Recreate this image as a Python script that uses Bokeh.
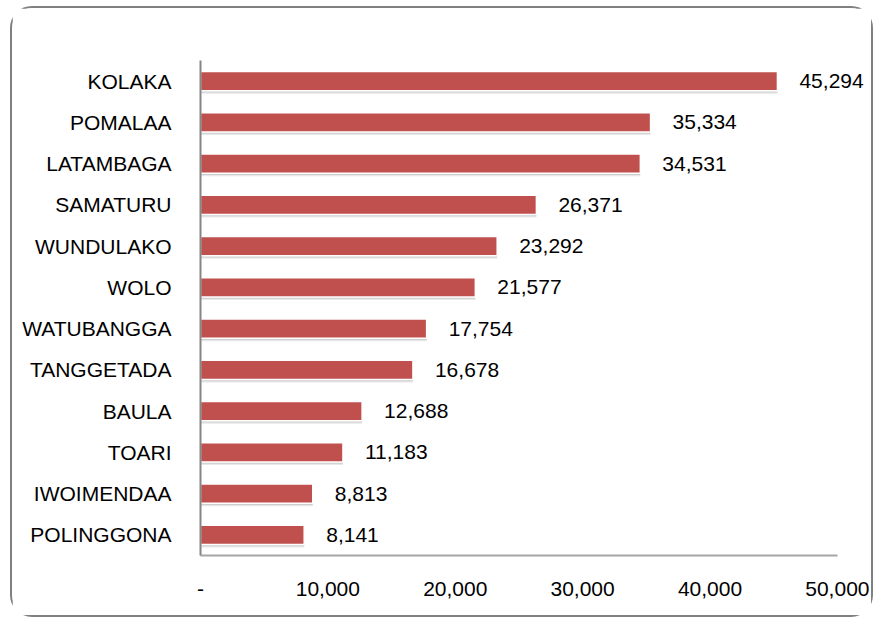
from bokeh.plotting import figure
from bokeh.models import ColumnDataSource, FactorRange, Range1d, FixedTicker
from bokeh.transform import dodge
from bokeh.core.properties import value
from bokeh.embed import file_html
from bokeh.resources import INLINE

categories = ["KOLAKA", "POMALAA", "LATAMBAGA", "SAMATURU", "WUNDULAKO", "WOLO",
              "WATUBANGGA", "TANGGETADA", "BAULA", "TOARI", "IWOIMENDAA", "POLINGGONA"]
values = [45294, 35334, 34531, 26371, 23292, 21577, 17754, 16678, 12688, 11183, 8813, 8141]
x_ticks = [0, 10000, 20000, 30000, 40000, 50000]
x_tick_labels = ["-", "10,000", "20,000", "30,000", "40,000", "50,000"]

FONT = "Liberation Sans"
FSIZE = "21px"
BAR = "#C0504D"

src = ColumnDataSource(dict(
    cat=categories,
    val=values,
    lab=[f"{v:,}" for v in values],
))

W, H = 863, 611
p = figure(width=W, height=H, output_backend="svg", toolbar_location=None,
           y_range=FactorRange(*reversed(categories)),
           x_range=Range1d(0, 52600),
           min_border_left=188, min_border_right=5,
           min_border_top=52, min_border_bottom=H - 547)
p.styles = {"border": "2px solid #808080", "border-radius": "22px",
            "box-sizing": "border-box", "margin-left": "10px", "margin-top": "6px"}

# shadow layers
p.hbar(y=dodge("cat", -0.07, range=p.y_range), right="val", left=0, height=0.47,
       source=src, fill_color="#7f7f7f", fill_alpha=0.18, line_color=None)
p.hbar(y=dodge("cat", -0.04, range=p.y_range), right="val", left=0, height=0.47,
       source=src, fill_color="#7f7f7f", fill_alpha=0.25, line_color=None)
# bars
p.hbar(y="cat", right="val", left=0, height=0.47, source=src,
       fill_color=BAR, line_color="white", line_width=1.5)
# value labels
p.text(x="val", y="cat", text="lab", source=src, x_offset=22,
       text_font=value(FONT), text_font_size=FSIZE, text_color="#000000",
       text_align="left", text_baseline="middle")

p.xgrid.visible = False
p.ygrid.visible = False
p.outline_line_color = None
p.background_fill_color = "white"
p.border_fill_color = "white"

xa = p.xaxis[0]
xa.ticker = FixedTicker(ticks=x_ticks)
xa.bounds = (x_ticks[0], x_ticks[-1])
xa.major_label_overrides = {t: l for t, l in zip(x_ticks, x_tick_labels)}
xa.axis_line_color = "#a6a6a6"
xa.axis_line_width = 2
xa.major_tick_line_color = None
xa.minor_tick_line_color = None
xa.major_label_standoff = 20
xa.major_label_text_font = FONT
xa.major_label_text_font_size = FSIZE
xa.major_label_text_color = "#000000"

ya = p.yaxis[0]
ya.axis_line_color = "#868686"
ya.axis_line_width = 2
ya.major_tick_line_color = None
ya.minor_tick_line_color = None
ya.major_label_standoff = 23
ya.major_label_text_font = FONT
ya.major_label_text_font_size = FSIZE
ya.major_label_text_color = "#000000"

open("out.html", "w").write(file_html(p, INLINE))
